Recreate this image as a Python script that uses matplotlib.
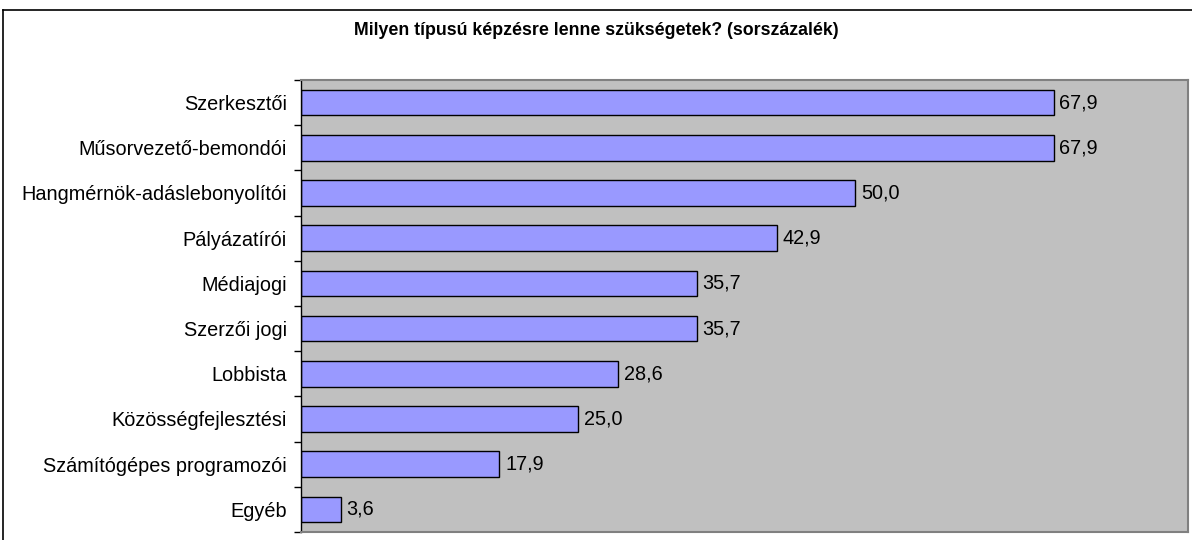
import numpy as np
import matplotlib
matplotlib.use("Agg")
import matplotlib.pyplot as plt
from matplotlib.lines import Line2D

plt.rcParams['font.family'] = ['Liberation Sans', 'DejaVu Sans']

categories = ["Szerkesztői", "Műsorvezető-bemondói", "Hangmérnök-adáslebonyolítói",
              "Pályázatírói", "Médiajogi", "Szerzői jogi", "Lobbista",
              "Közösségfejlesztési", "Számítógépes programozói", "Egyéb"]
values = [67.9, 67.9, 50.0, 42.9, 35.7, 35.7, 28.6, 25.0, 17.9, 3.6]
title = "Milyen típusú képzésre lenne szükségetek? (sorszázalék)"

fig = plt.figure(figsize=(11.92, 5.40), dpi=100)
ax = fig.add_axes([301 / 1192, 8 / 540, 887 / 1192, 452 / 540])
ax.set_facecolor("#C0C0C0")

y = np.arange(len(categories))
ax.barh(y, values, height=0.57, color="#9999FF", edgecolor="black", linewidth=1)
for yi, v in zip(y, values):
    ax.text(v + 0.5, yi, f"{v:.1f}".replace(".", ","), va="center", ha="left",
            fontsize=14.3)

ax.set_xlim(0, 80)
ax.set_ylim(len(categories) - 0.5, -0.5)
ax.set_yticks(y)
ax.set_yticklabels(categories, fontsize=14.3)
ax.set_yticks(np.arange(-0.5, len(categories)), minor=True)
ax.tick_params(axis="y", which="major", length=0, pad=10)
ax.tick_params(axis="y", which="minor", length=5, width=1, direction="out", color="black")
ax.set_xticks([])

for side in ["top", "right", "bottom"]:
    ax.spines[side].set_color("#808080")
    ax.spines[side].set_linewidth(1.5)
ax.spines["left"].set_color("black")
ax.spines["left"].set_linewidth(1)

fig.text(596 / 1192, 1 - 31 / 540, title, ha="center", va="center",
         fontsize=12.8, fontweight="bold")

# outer chart border (left and top visible)
fig.add_artist(Line2D([3 / 1192, 3 / 1192], [0, 1 - 10 / 540], color="black",
                      linewidth=1.2, transform=fig.transFigure))
fig.add_artist(Line2D([3 / 1192, 1], [1 - 10 / 540, 1 - 10 / 540], color="black",
                      linewidth=1.2, transform=fig.transFigure))

fig.savefig("out.png", dpi=100)
